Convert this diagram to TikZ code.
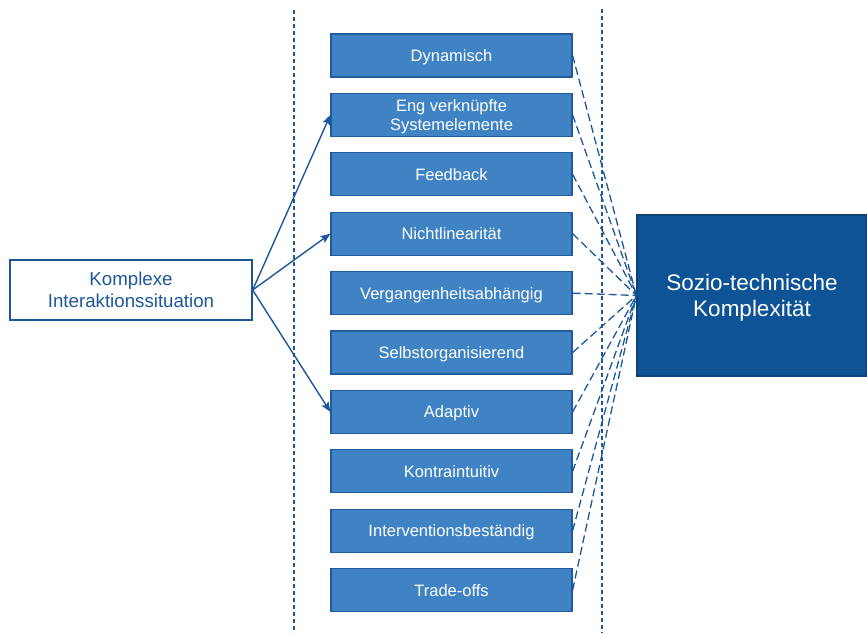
\documentclass[tikz,border=0pt]{standalone}
\usepackage{fontspec}
\setmainfont{Liberation Sans}
\usetikzlibrary{arrows.meta}
\definecolor{boxfill}{RGB}{63,131,197}
\definecolor{boxedge}{RGB}{32,92,155}
\definecolor{bigfill}{RGB}{14,83,150}
\definecolor{dblue}{RGB}{28,88,152}
\begin{document}
\begin{tikzpicture}[x=1pt,y=-1pt,
  featurebase/.style={draw=boxedge, line width=1.2pt, fill=boxfill, text=white,
    minimum width=241pt, minimum height=43pt, inner sep=0pt, align=center,
    font=\fontsize{16.5}{19.3}\selectfont},
  feature/.style={featurebase, text height=11.8pt, text depth=0pt},
  featuretwo/.style={featurebase, text height=31.1pt, text depth=0pt},
  sourcebox/.style={draw=dblue, line width=1.3pt, fill=white, text=dblue,
    minimum width=242pt, minimum height=60pt, inner sep=0pt, align=center,
    font=\fontsize{18.7}{22}\selectfont, text height=35.4pt, text depth=0pt},
  targetbox/.style={draw=bigfill!80!black, line width=1.2pt, fill=bigfill, text=white,
    minimum width=230pt, minimum height=161pt, inner sep=0pt, align=center,
    font=\fontsize{22.5}{26.6}\selectfont, text height=42.7pt, text depth=0pt},
  link/.style={draw=dblue, line width=1.3pt, dash pattern=on 8pt off 4pt},
  divider/.style={draw=dblue, line width=1.3pt, dash pattern=on 4pt off 3pt},
  arrowline/.style={draw=dblue, line width=1.4pt, -{Stealth[length=10pt,width=8pt,inset=2pt]}}]
\useasboundingbox (0,0) rectangle (867,633);

\coordinate (d1t) at (294,10);
\coordinate (d1b) at (294,633);
\coordinate (d2t) at (602,9);
\coordinate (d2b) at (602,633);
\draw[divider] (d1t) -- (d1b);
\draw[divider] (d2t) -- (d2b);

\node[sourcebox] (src) at (131,290) {Komplexe\\Interaktionssituation};
\node[targetbox] (tgt) at (752,295.5) {Sozio-technische\\Komplexität};

\node[feature] (f0) at (451.5,55.5) {Dynamisch};
\node[featuretwo] (f1) at (451.5,114.9) {Eng verknüpfte\\Systemelemente};
\node[feature] (f2) at (451.5,174.3) {Feedback};
\node[feature] (f3) at (451.5,233.7) {Nichtlinearität};
\node[feature] (f4) at (451.5,293.1) {Vergangenheitsabhängig};
\node[feature] (f5) at (451.5,352.5) {Selbstorganisierend};
\node[feature] (f6) at (451.5,411.9) {Adaptiv};
\node[feature] (f7) at (451.5,471.3) {Kontraintuitiv};
\node[feature] (f8) at (451.5,530.7) {Interventionsbeständig};
\node[feature] (f9) at (451.5,590.1) {Trade-offs};

\foreach \i in {0,...,9} {
  \draw[link] (f\i.east) -- (tgt.west);
}

\draw[arrowline] (src.east) -- (f1.west);
\draw[arrowline] (src.east) -- (f3.west);
\draw[arrowline] (src.east) -- (f6.west);
\end{tikzpicture}
\end{document}
